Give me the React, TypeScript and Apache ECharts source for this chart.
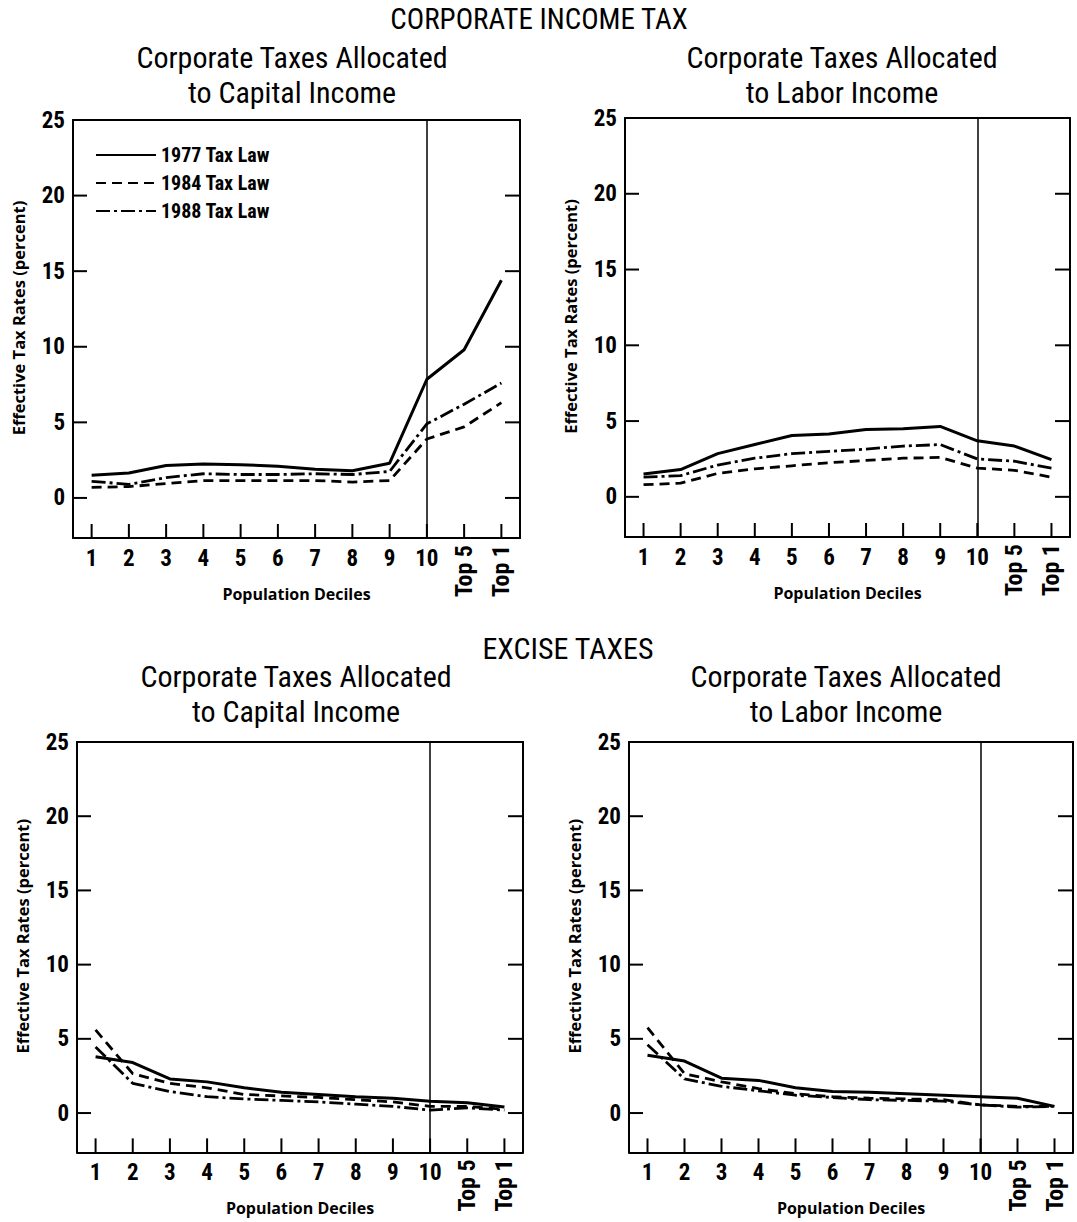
import React, { useEffect, useRef } from "react";
import * as echarts from "echarts";

// width markers (unknown family names, used only by the CSS rules below)
const F_COND = "w75, Roboto, sans-serif";
const F_NAME = "w100, 'Open Sans', sans-serif";

const categories = ["1", "2", "3", "4", "5", "6", "7", "8", "9", "10", "Top 5", "Top 1"];
const yTicks = [0, 5, 10, 15, 20, 25];
const seriesNames = ["1977 Tax Law", "1984 Tax Law", "1988 Tax Law"];

// Corporate income tax, allocated to capital income
const corpCapital1977 = [1.5, 1.65, 2.15, 2.25, 2.2, 2.1, 1.9, 1.8, 2.3, 7.85, 9.8, 14.4];
const corpCapital1984 = [0.7, 0.75, 0.95, 1.15, 1.15, 1.15, 1.15, 1.05, 1.15, 3.9, 4.7, 6.3];
const corpCapital1988 = [1.1, 0.9, 1.35, 1.6, 1.55, 1.55, 1.6, 1.55, 1.75, 4.9, 6.2, 7.6];

// Corporate income tax, allocated to labor income
const corpLabor1977 = [1.5, 1.8, 2.85, 3.45, 4.05, 4.15, 4.45, 4.5, 4.65, 3.7, 3.35, 2.45];
const corpLabor1984 = [0.8, 0.9, 1.55, 1.85, 2.05, 2.25, 2.4, 2.55, 2.6, 1.9, 1.75, 1.3];
const corpLabor1988 = [1.3, 1.4, 2.1, 2.55, 2.85, 3.0, 3.15, 3.35, 3.45, 2.5, 2.35, 1.9];

// Excise taxes, corporate taxes allocated to capital income
const exciseCapital1977 = [3.8, 3.4, 2.3, 2.1, 1.7, 1.4, 1.25, 1.1, 1.0, 0.8, 0.7, 0.4];
const exciseCapital1984 = [5.6, 2.65, 2.0, 1.7, 1.25, 1.15, 1.05, 0.9, 0.75, 0.45, 0.45, 0.25];
const exciseCapital1988 = [4.45, 2.0, 1.45, 1.1, 0.95, 0.85, 0.75, 0.6, 0.45, 0.2, 0.35, 0.2];

// Excise taxes, corporate taxes allocated to labor income
const exciseLabor1977 = [3.9, 3.5, 2.35, 2.2, 1.7, 1.45, 1.4, 1.3, 1.2, 1.1, 1.0, 0.45];
const exciseLabor1984 = [5.75, 2.65, 2.1, 1.65, 1.3, 1.1, 1.0, 0.95, 0.9, 0.55, 0.45, 0.45];
const exciseLabor1988 = [4.6, 2.3, 1.8, 1.5, 1.2, 1.05, 0.9, 0.85, 0.8, 0.55, 0.4, 0.45];

const panels = [
  { grid: { left: 73, top: 120, width: 447, height: 418 }, data: [corpCapital1977, corpCapital1984, corpCapital1988] },
  { grid: { left: 625, top: 118, width: 445, height: 419 }, data: [corpLabor1977, corpLabor1984, corpLabor1988] },
  { grid: { left: 77, top: 742, width: 446, height: 414 }, data: [exciseCapital1977, exciseCapital1984, exciseCapital1988] },
  { grid: { left: 629, top: 742, width: 444, height: 414 }, data: [exciseLabor1977, exciseLabor1984, exciseLabor1988] },
];

const lineTypes: any[] = ["solid", [10, 6], [14, 4, 3, 4]];

const Y_MIN = -2.65;
const Y_MAX = 25;
const TICK_LEN = 14;

function buildOption() {
  const grids: any[] = [];
  const xAxes: any[] = [];
  const yAxes: any[] = [];
  const series: any[] = [];
  const black = "#000";
  const axisLine = { show: true, onZero: false, lineStyle: { color: black, width: 2 } };
  const tickStyle = { stroke: black, lineWidth: 2 };

  panels.forEach((p, i) => {
    grids.push({ ...p.grid, show: false, containLabel: false });
    // bottom axis: line, decile labels, name
    xAxes.push({
      type: "category",
      gridIndex: i,
      data: categories,
      boundaryGap: true,
      position: "bottom",
      axisLine,
      axisTick: { show: false },
      axisLabel: {
        interval: 0,
        margin: 9,
        fontSize: 23,
        fontWeight: "bold",
        color: black,
        fontFamily: F_COND,
        formatter: (v: string) => (v.indexOf("Top") === 0 ? "" : v),
      },
      splitLine: { show: false },
      name: "Population Deciles",
      nameLocation: "middle",
      nameGap: 48,
      nameTextStyle: { fontSize: 16, fontWeight: "bold", color: black, fontFamily: F_NAME },
    });
    // bottom axis: rotated "Top" labels
    xAxes.push({
      type: "category",
      gridIndex: i,
      data: categories,
      boundaryGap: true,
      position: "bottom",
      offset: 0,
      axisLine: { show: false, onZero: false },
      axisTick: { show: false },
      axisLabel: {
        interval: 0,
        rotate: 90,
        margin: 7,
        fontSize: 24,
        fontWeight: "bold",
        color: black,
        fontFamily: F_COND,
        formatter: (v: string) => (v.indexOf("Top") === 0 ? v : ""),
      },
      splitLine: { show: false },
    });
    // top frame line
    xAxes.push({
      type: "category",
      gridIndex: i,
      data: categories,
      boundaryGap: true,
      position: "top",
      axisLine,
      axisTick: { show: false },
      axisLabel: { show: false },
      splitLine: { show: false },
    });
    yAxes.push({
      type: "value",
      gridIndex: i,
      min: Y_MIN,
      max: Y_MAX,
      position: "left",
      axisLine,
      axisTick: { show: false },
      axisLabel: { customValues: yTicks, margin: 8, fontSize: 23, fontWeight: "bold", color: black, fontFamily: F_COND },
      splitLine: { show: false },
      name: "Effective Tax Rates (percent)",
      nameLocation: "middle",
      nameGap: 46,
      nameTextStyle: { fontSize: 16.5, fontWeight: "bold", color: black, fontFamily: F_NAME, padding: [0, 0, 0, 22] },
    });
    yAxes.push({
      type: "value",
      gridIndex: i,
      min: Y_MIN,
      max: Y_MAX,
      position: "right",
      axisLine,
      axisTick: { show: false },
      axisLabel: { show: false },
      splitLine: { show: false },
    });

    // inward tick marks on left and right frame, at the y tick values
    series.push({
      type: "custom",
      name: "yTicks" + i,
      xAxisIndex: i * 3,
      yAxisIndex: i * 2,
      silent: true,
      clip: false,
      z: 2,
      data: yTicks.map((v) => [0, v]),
      encode: { x: 0, y: 1 },
      renderItem: (params: any, api: any) => {
        const cs = params.coordSys;
        const y = api.coord([api.value(0), api.value(1)])[1];
        return {
          type: "group",
          children: [
            { type: "line", shape: { x1: cs.x, y1: y, x2: cs.x + TICK_LEN, y2: y }, style: tickStyle },
            { type: "line", shape: { x1: cs.x + cs.width - TICK_LEN - 1, y1: y, x2: cs.x + cs.width, y2: y }, style: tickStyle },
          ],
        };
      },
    });
    // inward tick marks on the bottom frame, one per category
    series.push({
      type: "custom",
      name: "xTicks" + i,
      xAxisIndex: i * 3,
      yAxisIndex: i * 2,
      silent: true,
      clip: false,
      z: 2,
      data: categories.map((c, j) => [j, Y_MIN]),
      encode: { x: 0, y: 1 },
      renderItem: (params: any, api: any) => {
        const cs = params.coordSys;
        const x = api.coord([api.value(0), api.value(1)])[0];
        const yb = cs.y + cs.height;
        return { type: "line", shape: { x1: x, y1: yb, x2: x, y2: yb - TICK_LEN }, style: tickStyle };
      },
    });

    p.data.forEach((d, k) => {
      const s: any = {
        type: "line",
        name: seriesNames[k],
        xAxisIndex: i * 3,
        yAxisIndex: i * 2,
        data: d,
        symbol: "none",
        lineStyle: { color: black, width: k === 0 ? 3 : 2.8, type: lineTypes[k] },
        itemStyle: { color: black },
        z: 3,
      };
      if (k === 0) {
        s.markLine = {
          silent: true,
          symbol: ["none", "none"],
          label: { show: false },
          lineStyle: { color: black, width: 1.5, type: "solid" },
          data: [{ xAxis: 9 }],
        };
      }
      series.push(s);
    });
  });

  const mk = (text: string, left: number, top: number, size: number) => ({
    text,
    left,
    top,
    textAlign: "center",
    padding: 0,
    textStyle: { fontSize: size, fontWeight: "normal", color: "#000", fontFamily: F_COND },
  });

  const titles = [
    mk("CORPORATE INCOME TAX", 539, 4, 29),
    mk("Corporate Taxes Allocated", 292, 42, 30),
    mk("to Capital Income", 292, 77, 30),
    mk("Corporate Taxes Allocated", 842, 42, 30),
    mk("to Labor Income", 842, 77, 30),
    mk("EXCISE TAXES", 568, 633, 30),
    mk("Corporate Taxes Allocated", 296, 661, 30),
    mk("to Capital Income", 296, 696, 30),
    mk("Corporate Taxes Allocated", 846, 661, 30),
    mk("to Labor Income", 846, 696, 30),
  ];

  return {
    animation: false,
    backgroundColor: "#fff",
    title: titles,
    legend: {
      show: true,
      data: seriesNames,
      orient: "vertical",
      left: 95,
      top: 145,
      padding: 0,
      itemWidth: 60,
      itemHeight: 14,
      itemGap: 8,
      itemStyle: { color: "transparent", borderColor: "transparent", borderWidth: 0, opacity: 0 },
      textStyle: { fontSize: 20, fontWeight: "bold", color: "#000", fontFamily: F_COND },
    },
    grid: grids,
    xAxis: xAxes,
    yAxis: yAxes,
    series,
  };
}

const css = `
#root svg text[style*="w75"] { font-stretch: 75% !important; }
`;

export default function App() {
  const ref = useRef<HTMLDivElement>(null);
  useEffect(() => {
    if (!ref.current) return;
    const chart = echarts.init(ref.current, undefined, { renderer: "svg" });
    chart.setOption(buildOption() as any);
    return () => chart.dispose();
  }, []);
  return (
    <>
      <style>{css}</style>
      <div
        ref={ref}
        style={{ position: "absolute", left: 0, top: 0, width: 1077, height: 1222, background: "#fff" }}
      />
    </>
  );
}
